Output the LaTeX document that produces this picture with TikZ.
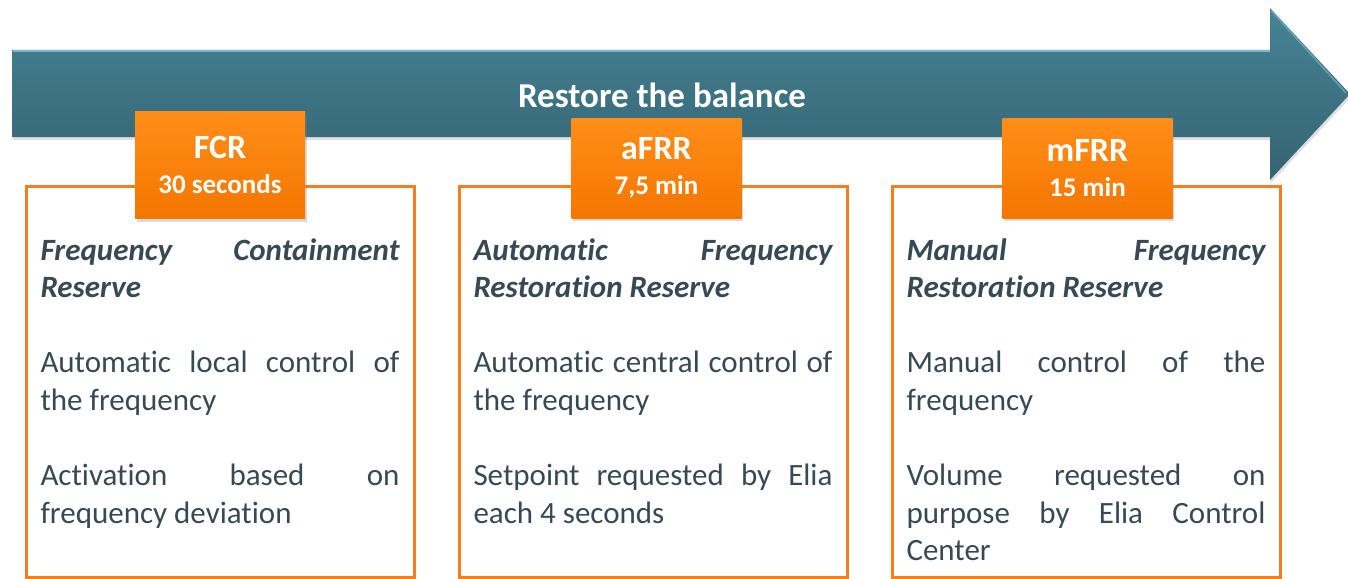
\documentclass[tikz,border=0pt]{standalone}
\usepackage{fontspec}
\setmainfont[RawFeature={-liga;-clig;-dlig;-calt;-rlig;-hlig}]{Carlito}
\usepackage{xcolor}
\usetikzlibrary{shadows}

\definecolor{arrowtop}{RGB}{70,131,148}
\definecolor{arrowbottom}{RGB}{53,99,114}
\definecolor{arrowlight}{RGB}{135,200,216}
\definecolor{taborange}{RGB}{255,128,2}
\definecolor{tabtop}{RGB}{255,142,25}
\definecolor{tabbottom}{RGB}{244,118,0}
\definecolor{boxorange}{RGB}{247,126,30}
\definecolor{slatetext}{RGB}{55,74,84}

\hbadness=10000

\begin{document}
\begin{tikzpicture}[x=1pt, y=1pt, node distance=433pt]

\tikzstyle{arrowbody} = [top color=arrowtop, bottom color=arrowbottom, drop shadow={shadow xshift=1pt, shadow yshift=-3pt, opacity=0.25}]
\tikzstyle{highlight} = [draw=arrowlight, line width=2pt, opacity=0.8]
\tikzstyle{reservebox} = [rectangle, minimum width=388pt, minimum height=391pt, inner sep=0pt, draw=boxorange, line width=3pt, text=slatetext, font=\fontsize{31}{37.6}\selectfont]
\tikzstyle{tab} = [rectangle, minimum width=170pt, minimum height=100pt, inner sep=0pt, top color=tabtop, middle color=taborange, bottom color=tabbottom, text=white, font=\bfseries, drop shadow={shadow xshift=1.5pt, shadow yshift=-3pt, opacity=0.3}]

\useasboundingbox (0,0) rectangle (1348,-578);

% arrow
\path [arrowbody] (12,-50) -- (1270,-50) -- (1270,-8) -- (1350,-94) -- (1270,-180) -- (1270,-137) -- (12,-137) -- cycle;
\draw [highlight] (13,-51.5) -- (1270,-51.5);
\draw [highlight, opacity=0.5, line width=1.5pt] (1271.5,-11) -- (1346,-93);
\draw (662,-95) node (title) [text=white, font=\fontsize{35}{40}\selectfont\bfseries] {Restore the balance};

\node (fcrbox) [reservebox] at (220,-381.5) {\parbox[c][295.5pt][t]{359pt}{\strut\textbf{\textit{Frequency Containment\linebreak Reserve}}\\[37.6pt]Automatic local control of\linebreak the frequency\\[37.6pt]Activation based on\linebreak frequency deviation}};
\node (afrrbox) [reservebox, right of=fcrbox] {\parbox[c][295.5pt][t]{359pt}{\strut\textbf{\textit{Automatic Frequency\linebreak Restoration Reserve}}\\[37.6pt]Automatic central control of\linebreak the frequency\\[37.6pt]Setpoint requested by Elia\linebreak each 4 seconds}};
\node (mfrrbox) [reservebox, right of=afrrbox] {\parbox[c][295.5pt][t]{359pt}{\strut\textbf{\textit{Manual Frequency\linebreak Restoration Reserve}}\\[37.6pt]Manual control of the\linebreak frequency\\[37.6pt]Volume requested on\linebreak purpose by Elia Control\linebreak Center}};

\node (fcr) [tab, above of=fcrbox, yshift=-216.5pt, minimum height=107pt] {\parbox{170pt}{\centering\fontsize{34}{35}\selectfont FCR\\ \fontsize{27}{35}\selectfont 30 seconds}};
\node (afrr) [tab, above of=afrrbox, xshift=3.5pt, yshift=-219.5pt] {\parbox{170pt}{\centering\fontsize{34}{35}\selectfont aFRR\\ \fontsize{27}{35}\selectfont 7,5 min}};
\node (mfrr) [tab, above of=mfrrbox, xshift=1.5pt, yshift=-219.5pt] {\parbox{170pt}{\centering\fontsize{34}{35}\selectfont mFRR\\ \fontsize{27}{35}\selectfont 15 min}};
\end{tikzpicture}
\end{document}
